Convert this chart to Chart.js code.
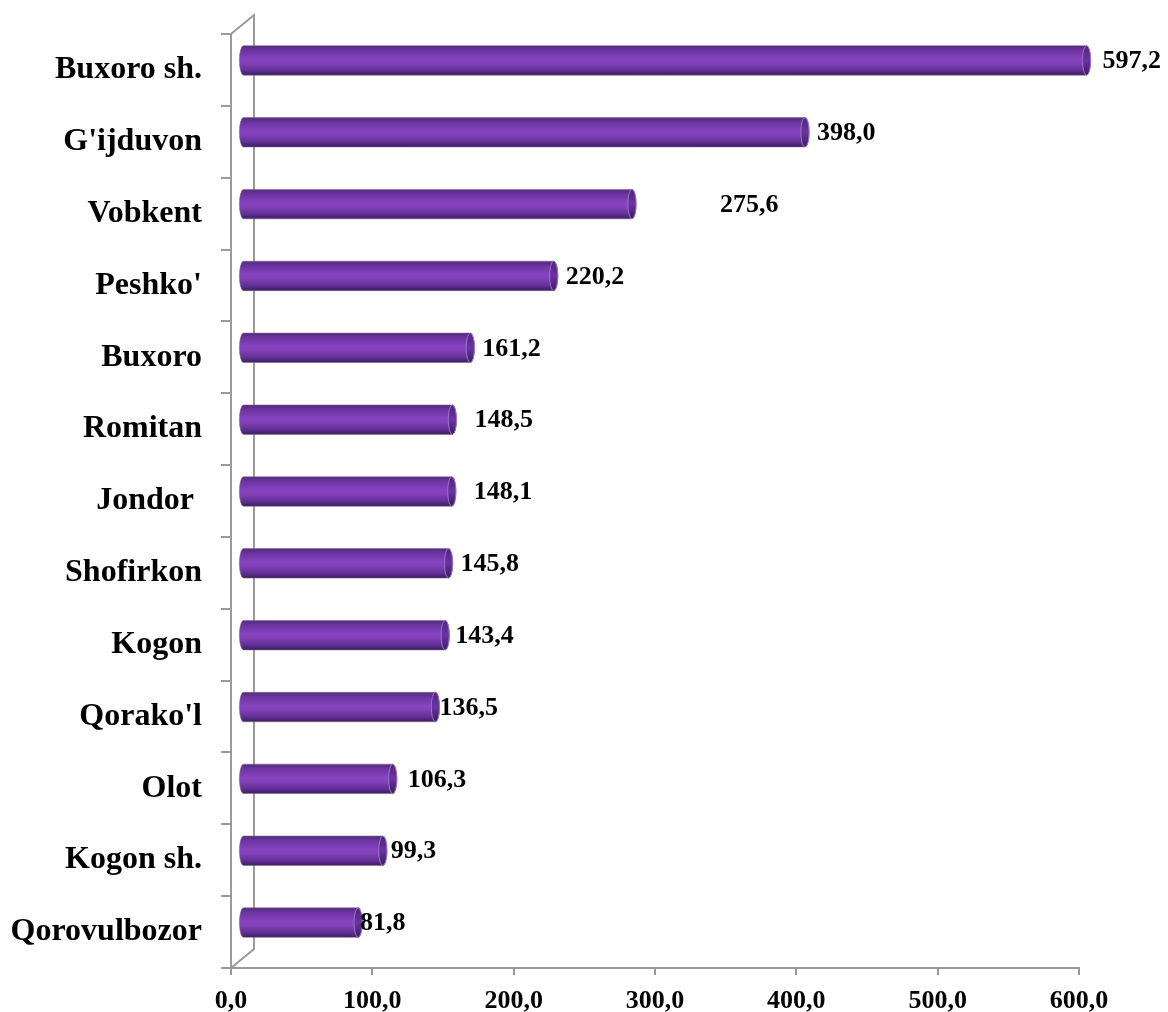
<!DOCTYPE html>
<html>
<head>
<meta charset="utf-8">
<script src="https://cdn.jsdelivr.net/npm/chart.js@4.4.1/dist/chart.umd.min.js"></script>
<style>
  body { margin: 0; background: #fff; }
  #wrap { width: 1168px; height: 1012px; }
</style>
</head>
<body>
<div id="wrap"><canvas id="chart" width="1168" height="1012"></canvas></div>
<script>
// districts, top to bottom
const categories = ["Buxoro sh.", "G'ijduvon", "Vobkent", "Peshko'", "Buxoro", "Romitan", "Jondor ", "Shofirkon", "Kogon", "Qorako'l", "Olot", "Kogon sh.", "Qorovulbozor"]
const values = [597.2, 398.0, 275.6, 220.2, 161.2, 148.5, 148.1, 145.8, 143.4, 136.5, 106.3, 99.3, 81.8]
const xTicks = [0, 100, 200, 300, 400, 500, 600]

// label gap after each bar end (px), the original has them a bit uneven
const labelGap = [16, 12, 88, 12, 12, 22, 22, 12, 10, 4, 15, 8, 2]

// 3d depth of the wall
const depthX = 23
const depthY = -19

const fmt = (v) => v.toFixed(1).replace('.', ',')

var wallPlugin = {
  id: 'wall',
  beforeDatasetsDraw(chart) {
    const { ctx, chartArea: a } = chart
    ctx.save()
    ctx.strokeStyle = '#9a9a9a'
    ctx.lineWidth = 2
    ctx.beginPath()
    ctx.moveTo(a.left, a.top)
    ctx.lineTo(a.left + depthX, a.top + depthY)
    ctx.lineTo(a.left + depthX, a.bottom + depthY)
    ctx.lineTo(a.left, a.bottom)
    ctx.stroke()
    ctx.restore()
  }
}

var cylinderPlugin = {
  id: 'cylinders',
  afterDatasetsDraw(chart) {
    const ctx = chart.ctx
    const meta = chart.getDatasetMeta(0)
    ctx.save()
    meta.data.forEach((bar, i) => {
      const p = bar.getProps(['x', 'y', 'base', 'height'], true)
      const x0 = p.base + depthX / 2
      const x1 = p.x + depthX / 2
      const cy = p.y + depthY / 2
      const ry = p.height / 2
      const rx = Math.max(3, p.height * 0.14)
      const top = cy - ry
      const bot = cy + ry

      const g = ctx.createLinearGradient(0, top, 0, bot)
      g.addColorStop(0, '#55297f')
      g.addColorStop(0.15, '#6a33a0')
      g.addColorStop(0.45, '#8744c0')
      g.addColorStop(0.6, '#8241b9')
      g.addColorStop(0.85, '#5f2e92')
      g.addColorStop(1, '#3b1c5e')

      // body
      ctx.beginPath()
      ctx.moveTo(x0, top)
      ctx.lineTo(x1, top)
      ctx.ellipse(x1, cy, rx, ry, 0, -Math.PI / 2, Math.PI / 2)
      ctx.lineTo(x0, bot)
      ctx.ellipse(x0, cy, rx, ry, 0, Math.PI / 2, Math.PI * 1.5)
      ctx.closePath()
      ctx.fillStyle = g
      ctx.fill()
      ctx.strokeStyle = 'rgba(120,110,135,0.55)'
      ctx.lineWidth = 1
      ctx.stroke()

      // end cap
      const gc = ctx.createLinearGradient(0, top, 0, bot)
      gc.addColorStop(0, '#4e2575')
      gc.addColorStop(0.5, '#6a34a2')
      gc.addColorStop(1, '#3a1b5c')
      ctx.beginPath()
      ctx.ellipse(x1, cy, rx, ry, 0, 0, Math.PI * 2)
      ctx.fillStyle = gc
      ctx.fill()
      ctx.strokeStyle = '#9d72cf'
      ctx.lineWidth = 1
      ctx.stroke()

      // value label
      ctx.fillStyle = '#000'
      ctx.font = 'bold 26px "Liberation Serif", "Times New Roman", serif'
      ctx.textAlign = 'left'
      ctx.textBaseline = 'middle'
      ctx.fillText(fmt(values[i]), x1 + labelGap[i], cy + 1)
    })
    ctx.restore()
  }
}

const ctx = document.getElementById('chart').getContext('2d')
globalThis.myChart = new Chart(ctx, {
  type: 'bar',
  data: {
    labels: categories,
    datasets: [{
      data: values,
      backgroundColor: 'rgba(0,0,0,0)',
      borderWidth: 0,
      barPercentage: 0.41,
      categoryPercentage: 1
    }]
  },
  options: {
    indexAxis: 'y',
    responsive: false,
    animation: false,
    layout: { padding: { top: 34, right: 89, left: 0, bottom: 0 } },
    plugins: {
      legend: { display: false },
      tooltip: { enabled: false }
    },
    scales: {
      x: {
        min: 0,
        max: 600,
        afterBuildTicks: (scale) => { scale.ticks = xTicks.map(v => ({ value: v })) },
        afterFit: (scale) => {
          scale.height = 44
          scale.paddingLeft = 0
          scale.paddingRight = 0
        },
        ticks: {
          callback: (v) => fmt(v),
          color: '#000',
          padding: 11,
          maxRotation: 0,
          font: { family: '"Liberation Serif", "Times New Roman", serif', size: 26, weight: 'bold' }
        },
        grid: { drawOnChartArea: false, tickLength: 7, color: '#9a9a9a', lineWidth: 2 },
        border: { display: true, color: '#9a9a9a', width: 2 }
      },
      y: {
        afterFit: (scale) => {
          scale.width = 231
          scale.paddingTop = 0
          scale.paddingBottom = 0
        },
        ticks: {
          color: '#000',
          padding: 19,
          font: { family: '"Liberation Serif", "Times New Roman", serif', size: 32, weight: 'bold' }
        },
        grid: { drawOnChartArea: false, tickLength: 10, color: '#9a9a9a', lineWidth: 2, offset: true },
        border: { display: true, color: '#9a9a9a', width: 2 }
      }
    }
  },
  plugins: [wallPlugin, cylinderPlugin]
})
</script>
</body>
</html>
